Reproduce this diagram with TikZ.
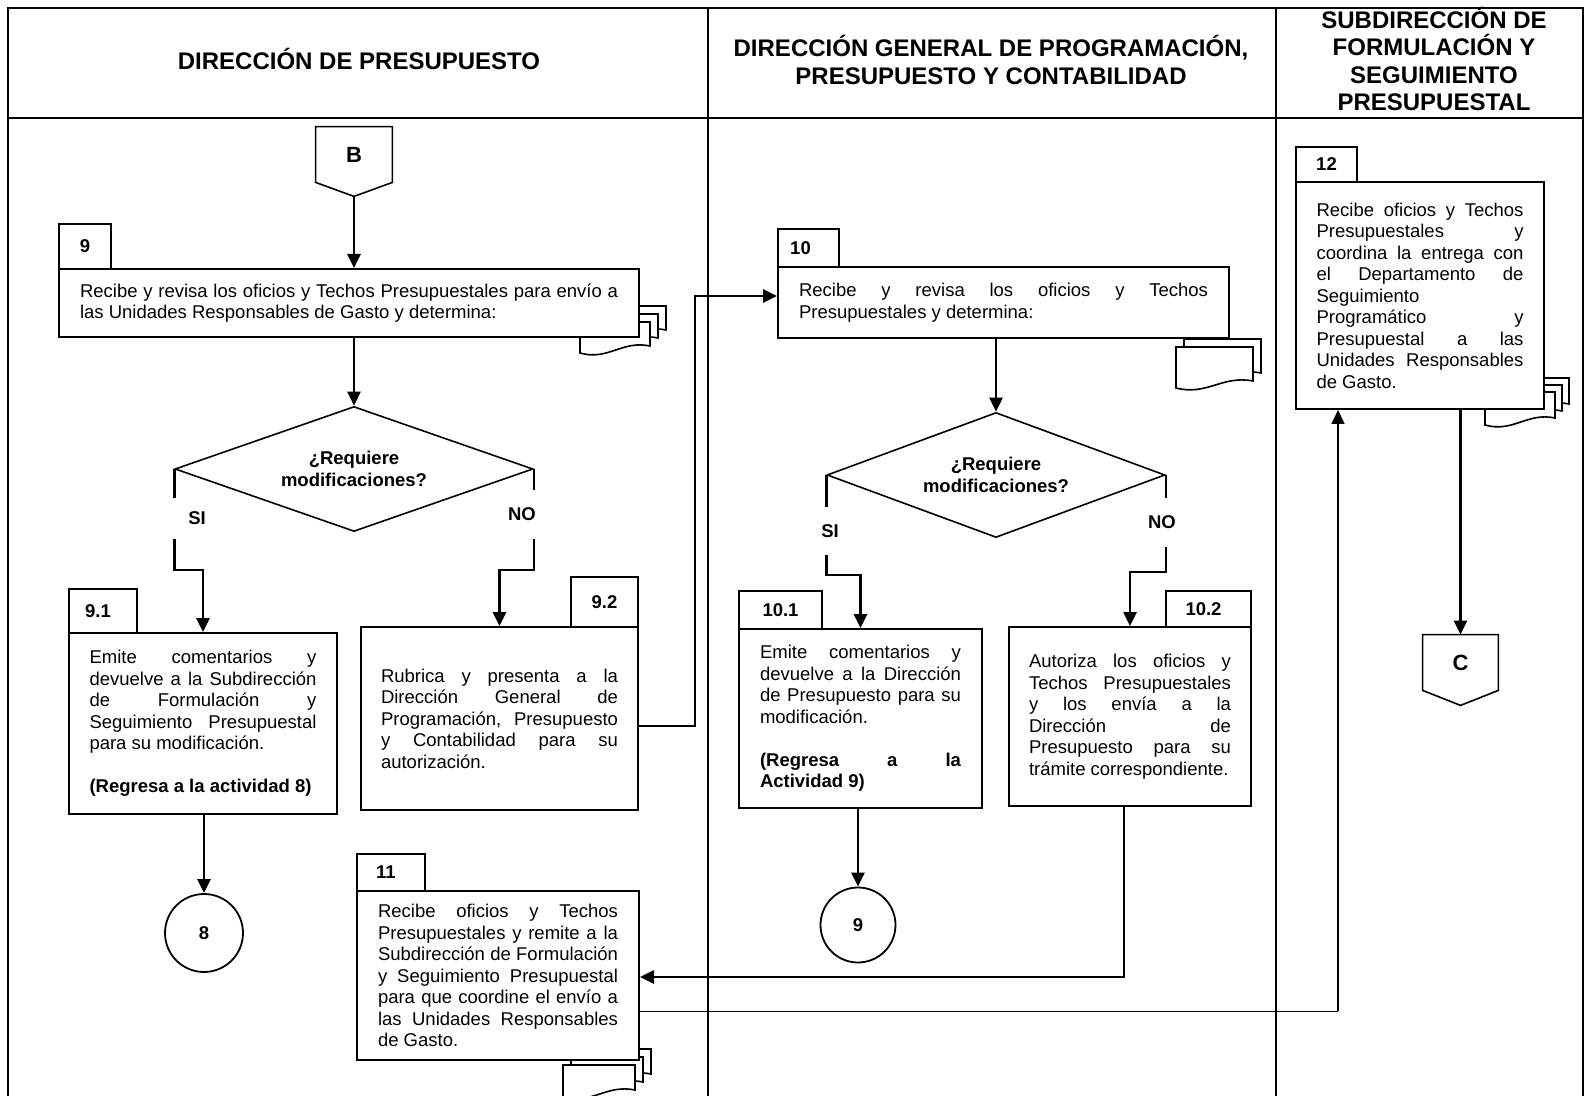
\documentclass[tikz,border=0pt]{standalone}
\usepackage{fontspec}
\setmainfont{Liberation Sans}
\usetikzlibrary{arrows.meta,shapes.geometric,calc}
\tolerance=10000 \hbadness=10000 \hfuzz=6pt
\hyphenpenalty=10000 \exhyphenpenalty=10000
\setlength{\parindent}{0pt}

\newcommand\bodyfont{\fontsize{9.25}{10.75}\selectfont}
\newcommand\headfont{\fontsize{12}{13.8}\selectfont\bfseries}

% one sheet of a document symbol: left, bottom, width, height (wavy bottom edge)
\newcommand\docsheet[4]{%
  \filldraw[docline] (#1,#2-#4) -- (#1+#3,#2-#4) -- (#1+#3,#2-7)
    .. controls (#1+0.6*#3,#2-13) and (#1+0.4*#3,#2+8) .. (#1,#2) -- cycle;}
% stack of three sheets: left, bottom, width, height, offset
\newcommand\docstack[5]{%
  \docsheet{#1+2*#5}{#2-2*#5}{#3}{#4}%
  \docsheet{#1+#5}{#2-#5}{#3}{#4}%
  \docsheet{#1}{#2}{#3}{#4}}

\tikzset{
  lane/.style={line width=1.1pt},
  box/.style={draw, line width=1pt, fill=white, rectangle, inner sep=0pt,
    align=justify, font=\bodyfont},
  tab/.style={draw, line width=0.65pt, fill=white, rectangle, inner sep=0pt,
    font=\bodyfont\bfseries},
  decision/.style={draw, diamond, line width=0.8pt, fill=white, inner sep=0pt,
    shape aspect=2.8, align=center, font=\bodyfont\bfseries},
  endpoint/.style={draw, circle, line width=0.9pt, fill=white, inner sep=0pt,
    font=\bodyfont\bfseries},
  offpage/.style={rectangle, inner sep=0pt, font=\fontsize{11}{13}\selectfont\bfseries},
  flow/.style={line width=1.3pt, -{Triangle[length=7pt,width=6.5pt]}},
  branch/.style={fill=white, inner sep=0pt, font=\bodyfont\bfseries},
  docline/.style={line width=0.8pt, fill=white},
  header/.style={align=center, font=\headfont},
}

\begin{document}
\begin{tikzpicture}[x=0.5pt, y=-0.5pt]
\useasboundingbox (0,0) rectangle (1585,1096);
\clip (0,0) rectangle (1585,1096);

% swimlane frame
\draw[lane] (8,1100) -- (8,8) -- (1583,8) -- (1583,1100);
\draw[lane] (8,118) -- (1583,118);
\draw[lane] (708,8) -- (708,1100);
\draw[lane] (1276,8) -- (1276,1100);

% lane headers
\node[header] (h1) at (359,59) {DIRECCIÓN DE PRESUPUESTO};
\node[header] (h2) at (991,60) {DIRECCIÓN GENERAL DE PROGRAMACIÓN,\\PRESUPUESTO Y CONTABILIDAD};
\node[header] (h3) at (1434,59) {SUBDIRECCIÓN DE\\FORMULACIÓN Y\\SEGUIMIENTO\\PRESUPUESTAL};

% document symbols behind the activity boxes
\docstack{580}{353}{70}{31}{8}
\docsheet{1184}{380}{77}{41}
\docsheet{1176}{388}{77}{41}
\docstack{1485}{425}{70}{33}{7}
\docstack{563}{1097}{72}{32}{8}

% off-page connector B
\node[offpage, minimum width=38pt, minimum height=27.5pt] (B) at (354,154.5) {B};
\coordinate (Bpt) at ($(B.south)+(0,14)$);
\draw[line width=0.8pt] (B.north west) -- (B.north east) -- (B.south east) -- (Bpt) -- (B.south west) -- cycle;

% activity number tabs
\node[tab, minimum width=26pt, minimum height=22.5pt] (t9) at (85,246.5) {9};
\node[tab, minimum width=30.5pt, minimum height=19pt] (t10) at (808.5,248) {\hspace*{-8pt}10};
\node[tab, minimum width=34pt, minimum height=22pt] (t91) at (103,611) {\hspace*{-5pt}9.1};
\node[tab, minimum width=33.5pt, minimum height=25pt] (t92) at (604.5,602) {9.2};
\node[tab, minimum width=41.5pt, minimum height=19pt] (t101) at (780.5,610) {10.1};
\node[tab, minimum width=42.5pt, minimum height=18pt] (t102) at (1208.5,609) {\hspace*{-5pt}10.2};
\node[tab, minimum width=34pt, minimum height=18.5pt] (t11) at (391,872.5) {\hspace*{-5pt}11};
\node[tab, minimum width=30.5pt, minimum height=17.5pt] (t12) at (1326.5,164.5) {12};

% activity boxes
\node[box, minimum width=290pt, minimum height=34pt, text width=269pt] (b9) at (349,303)
  {Recibe y revisa los oficios y Techos Presupuestales para envío a\linebreak las Unidades Responsables de Gasto y determina:};
\node[box, minimum width=225.5pt, minimum height=35.5pt, text width=204.5pt] (b10) at (1003.5,302.5)
  {Recibe y revisa los oficios y Techos\linebreak Presupuestales y determina:};
\node[box, minimum width=134pt, minimum height=90.5pt, text width=113.5pt] (b91) at (203,723.5)
  {Emite comentarios y\linebreak devuelve a la Subdirección\linebreak de Formulación y\linebreak Seguimiento Presupuestal\linebreak para su modificación.\par\vspace{10.75pt}\textbf{(Regresa a la actividad 8)}};
\node[box, minimum width=138.5pt, minimum height=91.5pt, text width=118.5pt] (b92) at (499.5,718.5)
  {Rubrica y presenta a la\linebreak Dirección General de\linebreak Programación, Presupuesto\linebreak y Contabilidad para su\linebreak autorización.};
\node[box, minimum width=121.5pt, minimum height=89.5pt, text width=100.5pt] (b101) at (860.5,718.5)
  {Emite comentarios y\linebreak devuelve a la Dirección\linebreak de Presupuesto para su\linebreak modificación.\par\vspace{10.75pt}\textbf{(Regresa a la\linebreak Actividad 9)}};
\node[box, minimum width=121pt, minimum height=89.5pt, text width=101pt] (b102) at (1130,716.5)
  {Autoriza los oficios y\linebreak Techos Presupuestales\linebreak y los envía a la\linebreak Dirección de\linebreak Presupuesto para su\linebreak trámite correspondiente.};
\node[box, minimum width=141pt, minimum height=84.5pt, text width=120pt] (b11) at (498,975.5)
  {Recibe oficios y Techos\linebreak Presupuestales y remite a la\linebreak Subdirección de Formulación\linebreak y Seguimiento Presupuestal\linebreak para que coordine el envío a\linebreak las Unidades Responsables\linebreak de Gasto.};
\node[box, minimum width=124pt, minimum height=113.5pt, text width=103.5pt] (b12) at (1420,295.5)
  {Recibe oficios y Techos\linebreak Presupuestales y\linebreak coordina la entrega con\linebreak el Departamento de\linebreak Seguimiento\newline Programático y\linebreak Presupuestal a las\linebreak Unidades Responsables\linebreak de Gasto.};

% decisions
\node[decision, minimum width=179pt, minimum height=62.5pt] (d1) at (354,469) {¿Requiere\\modificaciones?};
\node[decision, minimum width=169pt, minimum height=62.5pt] (d2) at (996,475) {¿Requiere\\modificaciones?};

% end points and off-page connector C
\node[endpoint, minimum size=39pt] (c8) at (204,933) {8};
\node[endpoint, minimum size=37.5pt] (c9) at (858,925) {9};
\node[offpage, minimum width=37.5pt, minimum height=27.5pt] (C) at (1460.5,662.5) {C};
\coordinate (Cpt) at ($(C.south)+(0,15)$);
\draw[line width=0.8pt] (C.north west) -- (C.north east) -- (C.south east) -- (Cpt) -- (C.south west) -- cycle;

% flow connectors
\coordinate (ySI1) at (0,570);
\coordinate (ySI2) at (0,575);
\coordinate (yNO2) at (0,572);
\draw[flow] (Bpt) -- (b9.north -| Bpt);
\draw[flow] (d1.north |- b9.south) -- (d1.north);
\draw[flow] (d1.west) -- (d1.west |- ySI1) -| (b91.north);
\draw[flow] (d1.east) -- (d1.east |- ySI1) -| (b92.north);
\draw[flow] (c8.north |- b91.south) -- (c8.north);
\coordinate (k1) at (695,726);
\coordinate (k2) at (695,296);
\draw[flow] (b92.east |- k1) -- (k1) -- (k2) -- (b10.west |- k2);
\draw[flow] (d2.north |- b10.south) -- (d2.north);
\draw[flow] (d2.west) -- (d2.west |- ySI2) -| (b101.north);
\draw[flow] (d2.east) -- (d2.east |- yNO2) -| (b102.north);
\draw[flow] (c9.north |- b101.south) -- (c9.north);
\coordinate (k3) at (1124,977);
\draw[flow] (b102.south -| k3) -- (k3) -- (b11.east |- k3);
\coordinate (k4) at (1338,1011);
\draw[line width=0.5pt] (b11.east |- k4) -- (k4);
\draw[line width=0.8pt, -{Triangle[length=7pt,width=6.5pt]}] (k4) -- (b12.south -| k4);
\draw[flow] (b12.south -| C.north) -- (C.north);

% branch labels
\node[branch, minimum width=29pt, minimum height=20.5pt] (si1) at (197,518.5) {SI};
\node[branch, minimum width=20pt, minimum height=24.5pt] (no1) at (522,514.5) {NO};
\node[branch, minimum width=20pt, minimum height=24pt] (si2) at (830,531) {SI};
\node[branch, minimum width=20pt, minimum height=24.5pt] (no2) at (1162,522.5) {NO};
\end{tikzpicture}
\end{document}
